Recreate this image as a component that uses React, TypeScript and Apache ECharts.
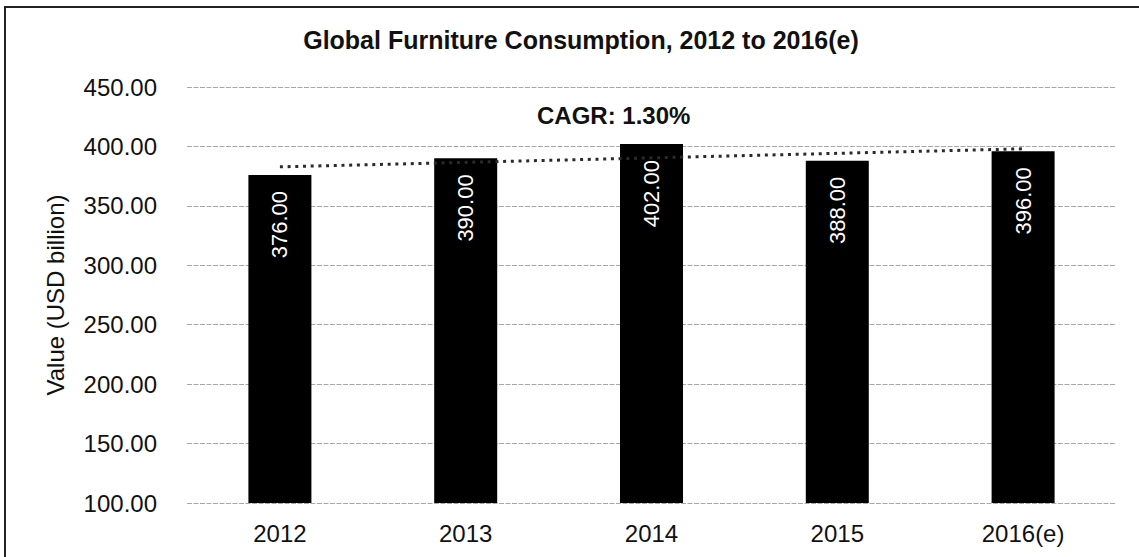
import React, { useEffect, useRef } from "react";
import * as echarts from "echarts";

// Global furniture consumption, USD billion
const years = ["2012", "2013", "2014", "2015", "2016(e)"];
const consumption = [376, 390, 402, 388, 396];

// Linear trend end points (first and last year)
const trendStart = 382.8;
const trendEnd = 398.0;

const titleText = "Global Furniture Consumption, 2012 to 2016(e)";
const cagrText = "CAGR: 1.30%";
const yAxisName = "Value (USD billion)";

const yMin = 100;
const yMax = 450;
const yStep = 50;

const FONT = "'Liberation Sans', Arial, Helvetica, sans-serif";

export default function App() {
  const ref = useRef<HTMLDivElement>(null);

  useEffect(() => {
    if (!ref.current) return;
    const chart = echarts.init(ref.current, undefined, { renderer: "svg" });

    chart.setOption({
      animation: false,
      backgroundColor: "#ffffff",
      textStyle: { fontFamily: FONT },
      title: {
        text: titleText,
        left: 576,
        top: 22,
        textAlign: "center",
        textStyle: {
          fontFamily: FONT,
          fontSize: 25,
          fontWeight: "bold",
          color: "#111111",
        },
      },
      grid: {
        left: 187,
        right: 23,
        top: 87,
        bottom: 54,
        containLabel: false,
      },
      xAxis: {
        type: "category",
        data: years,
        axisLine: { show: false },
        axisTick: { show: false },
        axisLabel: {
          fontFamily: FONT,
          fontSize: 24,
          color: "#111111",
          margin: 18,
        },
        splitLine: { show: false },
      },
      yAxis: {
        type: "value",
        min: yMin,
        max: yMax,
        interval: yStep,
        name: yAxisName,
        nameLocation: "middle",
        nameGap: 120,
        nameTextStyle: {
          fontFamily: FONT,
          fontSize: 24,
          color: "#111111",
        },
        axisLine: { show: false },
        axisTick: { show: false },
        axisLabel: {
          fontFamily: FONT,
          fontSize: 24,
          color: "#111111",
          margin: 30,
          formatter: (v: number) => v.toFixed(2),
        },
        splitLine: {
          show: true,
          lineStyle: { color: "#a8a8a8", width: 1.2, type: [5, 1.5] },
        },
      },
      series: [
        {
          type: "bar",
          data: consumption,
          barWidth: 63,
          itemStyle: { color: "#000000" },
          label: {
            show: true,
            position: "insideTop",
            rotate: 90,
            align: "right",
            verticalAlign: "middle",
            distance: 16,
            color: "#ffffff",
            fontFamily: FONT,
            fontSize: 22,
            formatter: (p: any) => Number(p.value).toFixed(2),
          },
          markLine: {
            silent: true,
            symbol: ["none", "none"],
            label: { show: false },
            lineStyle: {
              color: "#2a2a2a",
              width: 3,
              type: [3, 4.7],
            },
            data: [
              [
                { coord: [years[0], trendStart] },
                { coord: [years[years.length - 1], trendEnd] },
              ],
            ],
          },
          z: 2,
        },
      ],
      graphic: [
        {
          type: "text",
          left: 537,
          top: 103,
          style: {
            text: cagrText,
            font: `bold 24px ${FONT}`,
            fill: "#111111",
          },
        },
        {
          type: "line",
          shape: { x1: 4, y1: 7, x2: 1139, y2: 7 },
          style: { stroke: "#222222", lineWidth: 2 },
        },
        {
          type: "line",
          shape: { x1: 5, y1: 6, x2: 5, y2: 557 },
          style: { stroke: "#222222", lineWidth: 2 },
        },
      ],
    });

    return () => chart.dispose();
  }, []);

  return (
    <div
      ref={ref}
      style={{
        position: "fixed",
        left: 0,
        top: 0,
        width: 1139,
        height: 557,
        background: "#ffffff",
      }}
    />
  );
}
